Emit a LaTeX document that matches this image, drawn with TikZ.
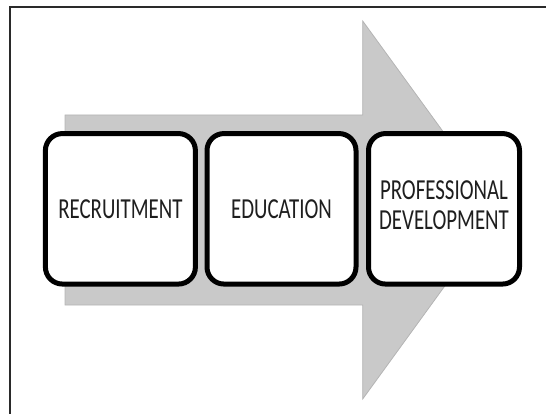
\documentclass[tikz,border=0pt]{standalone}
\usepackage{fontspec}
\setmainfont{Carlito}
\usepackage{graphicx}
\definecolor{arrowgray}{HTML}{C9C9C9}
\definecolor{arrowedge}{HTML}{B4B4B4}
\definecolor{framegray}{HTML}{2A2A2A}
\definecolor{txt}{HTML}{1E1E1E}
\newcommand\sqz[1]{\scalebox{0.72}[1]{#1}}
\begin{document}
\begin{tikzpicture}[x=1pt,y=-1pt,
  stagebox/.style={draw=black, line width=5pt, fill=white, rounded corners=17pt,
    minimum width=150pt, minimum height=150.5pt, inner sep=0pt,
    text=txt, font=\fontsize{29}{30}\selectfont, align=center}]
\useasboundingbox (0,0) rectangle (546,414);
% frame
\draw[framegray, line width=2pt] (546,7) -- (10,7) -- (10,414);
% big arrow
\fill[arrowgray, draw=arrowedge, line width=0.8pt]
  (65,115) -- (362.7,115) -- (362.7,21) -- (500,210) -- (362.7,399)
  -- (362.7,305) -- (65,305) -- cycle;
% stages
\node[stagebox] (b1) at (120.4,208.8) {\sqz{RECRUITMENT}};
\node[stagebox, minimum width=149pt] (b2) at (281.5,208.8) {\sqz{EDUCATION}};
\node[stagebox, minimum width=151pt] (b3) at (444,208.8)
  {\sqz{\begin{tabular}{@{}c@{}}PROFESSIONAL\\DEVELOPMENT\end{tabular}}};
\end{tikzpicture}
\end{document}
